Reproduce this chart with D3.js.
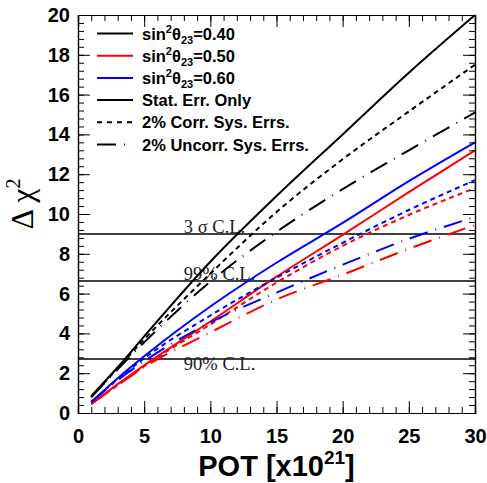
<!DOCTYPE html>
<html><head><meta charset="utf-8">
<script src="https://cdn.jsdelivr.net/npm/d3@7"></script>
<style>body{margin:0;background:#fff}</style>
</head><body>
<script>
const pot = [1, 3, 5, 10, 15, 20, 25, 30];
const stat040 = [0.85, 2.3, 3.85, 7.6, 10.9, 14.0, 17.1, 20.0];
const corr040 = [0.8, 2.25, 3.7, 7.0, 10.1, 12.75, 15.15, 17.5];
const uncorr040 = [0.8, 2.2, 3.55, 6.6, 9.1, 11.25, 13.2, 15.1];
const stat050 = [0.45, 1.45, 2.4, 4.6, 6.85, 8.95, 11.1, 13.2];
const corr050 = [0.45, 1.4, 2.35, 4.45, 6.55, 8.4, 9.95, 11.3];
const uncorr050 = [0.45, 1.4, 2.3, 4.05, 5.7, 6.95, 8.25, 9.45];
const stat060 = [0.55, 1.75, 2.85, 5.35, 7.55, 9.55, 11.65, 13.6];
const corr060 = [0.55, 1.7, 2.75, 4.9, 6.8, 8.55, 10.2, 11.7];
const uncorr060 = [0.55, 1.65, 2.6, 4.55, 6.05, 7.45, 8.75, 9.85];
const clValues = [9.0, 6.63, 2.71];
const clLabels = ["3 σ C.L.", "99% C.L.", "90% C.L."];
const xTicks = [0, 5, 10, 15, 20, 25, 30];
const yTicks = [0, 2, 4, 6, 8, 10, 12, 14, 16, 18, 20];

const W = 487, H = 483;
const m = {l: 78, r: 12, t: 15, b: 70};
const svg = d3.select("body").append("svg").attr("width", W).attr("height", H);
const x = d3.scaleLinear().domain([0, 30]).range([m.l, W - m.r]);
const y = d3.scaleLinear().domain([0, 20]).range([H - m.b, m.t]);

const colors = {"040": "#000000", "050": "#ff0000", "060": "#0000ff"};
const styles = {stat: null, corr: "5 4", uncorr: "19 8 1 8"};
const series = [
  {v: stat040, c: "040", s: "stat"}, {v: corr040, c: "040", s: "corr"}, {v: uncorr040, c: "040", s: "uncorr"},
  {v: stat050, c: "050", s: "stat"}, {v: corr050, c: "050", s: "corr"}, {v: uncorr050, c: "050", s: "uncorr"},
  {v: stat060, c: "060", s: "stat"}, {v: corr060, c: "060", s: "corr"}, {v: uncorr060, c: "060", s: "uncorr"}
];

// CL lines
clValues.forEach((v, i) => {
  svg.append("line").attr("x1", x(0)).attr("x2", x(30)).attr("y1", y(v)).attr("y2", y(v))
    .attr("stroke", "#000").attr("stroke-width", 1.5);
});
const clLabelY = [9.0, 6.63, 2.1];
clLabels.forEach((t, i) => {
  svg.append("text").attr("x", x(8.0)).attr("y", y(clLabelY[i]) - 1)
    .attr("font-family", "Liberation Serif, serif").attr("font-size", 18.5).attr("fill", "#222")
    .text(t);
});

const line = d3.line().x((d, i) => x(pot[i])).y(d => y(d)).curve(d3.curveMonotoneX);
series.forEach(se => {
  svg.append("path").attr("d", line(se.v)).attr("fill", "none")
    .attr("stroke", colors[se.c]).attr("stroke-width", 2)
    .attr("stroke-dasharray", styles[se.s]);
});

// axes
const font = "Liberation Sans, Arial, sans-serif";
function minor(step, max) { const a = []; for (let v = 0; v <= max + 1e-9; v += step) a.push(+v.toFixed(3)); return a; }
const xMinor = minor(1, 30), yMinor = minor(0.4, 20);

const gB = svg.append("g").attr("transform", `translate(0,${y(0)})`);
gB.call(d3.axisBottom(x).tickValues(xTicks).tickSize(-12).tickFormat(d3.format("d")).tickPadding(16));
gB.append("g").call(d3.axisBottom(x).tickValues(xMinor).tickSize(-6).tickFormat(""));
const gT = svg.append("g").attr("transform", `translate(0,${y(20)})`);
gT.call(d3.axisTop(x).tickValues(xTicks).tickSize(-12).tickFormat(""));
gT.append("g").call(d3.axisTop(x).tickValues(xMinor).tickSize(-6).tickFormat(""));
const gL = svg.append("g").attr("transform", `translate(${x(0)},0)`);
gL.call(d3.axisLeft(y).tickValues(yTicks).tickSize(-12).tickFormat(d3.format("d")).tickPadding(8));
gL.append("g").call(d3.axisLeft(y).tickValues(yMinor).tickSize(-6).tickFormat(""));
const gR = svg.append("g").attr("transform", `translate(${x(30)},0)`);
gR.call(d3.axisRight(y).tickValues(yTicks).tickSize(-12).tickFormat(""));
gR.append("g").call(d3.axisRight(y).tickValues(yMinor).tickSize(-6).tickFormat(""));
svg.selectAll(".domain").attr("stroke", "#000").attr("stroke-width", 1.2);
svg.selectAll(".tick line").attr("stroke", "#000");
svg.selectAll(".tick text").attr("font-family", font).attr("font-weight", "bold").attr("font-size", 20).attr("fill", "#000");
gB.selectAll(".tick text").attr("dy", "0.71em");

// axis titles
svg.append("text").attr("x", (x(0) + x(30)) / 2).attr("y", 476).attr("text-anchor", "middle")
  .attr("font-family", font).attr("font-weight", "bold").attr("font-size", 29)
  .call(t => { t.append("tspan").text("POT [x10"); t.append("tspan").attr("font-size", 19).attr("dy", -12).text("21"); t.append("tspan").attr("dy", 12).text("]"); });
svg.append("text").attr("transform", `translate(33,${(y(0) + y(20)) / 2 - 10}) rotate(-90)`).attr("text-anchor", "middle")
  .attr("font-family", "Liberation Serif, serif").attr("font-size", 32)
  .call(t => { t.append("tspan").text("Δ χ"); t.append("tspan").attr("font-size", 20).attr("dy", -13).text("2"); });

// legend
const legItems = [
  {label: ["sin", "2", "θ", "23", "=0.40"], color: "#000", dash: null},
  {label: ["sin", "2", "θ", "23", "=0.50"], color: "#ff0000", dash: null},
  {label: ["sin", "2", "θ", "23", "=0.60"], color: "#0000ff", dash: null},
  {label: "Stat. Err. Only", color: "#000", dash: null},
  {label: "2% Corr. Sys. Errs.", color: "#000", dash: "5 5"},
  {label: "2% Uncorr. Sys. Errs.", color: "#000", dash: "19 8 1 8"}
];
legItems.forEach((it, i) => {
  const yy = 33.5 + i * 22.2;
  svg.append("line").attr("x1", 97).attr("x2", 133).attr("y1", yy).attr("y2", yy)
    .attr("stroke", it.color).attr("stroke-width", 2).attr("stroke-dasharray", it.dash);
  const t = svg.append("text").attr("x", 142).attr("y", yy + 6).attr("font-family", font)
    .attr("font-weight", "bold").attr("font-size", 16.5);
  if (typeof it.label === "string") t.text(it.label);
  else {
    t.append("tspan").text(it.label[0]);
    t.append("tspan").attr("font-size", 11).attr("dy", -7).text(it.label[1]);
    t.append("tspan").attr("dy", 7).text(it.label[2]);
    t.append("tspan").attr("font-size", 11).attr("dy", 4).text(it.label[3]);
    t.append("tspan").attr("dy", -4).text(it.label[4]);
  }
});
</script>
</body></html>
